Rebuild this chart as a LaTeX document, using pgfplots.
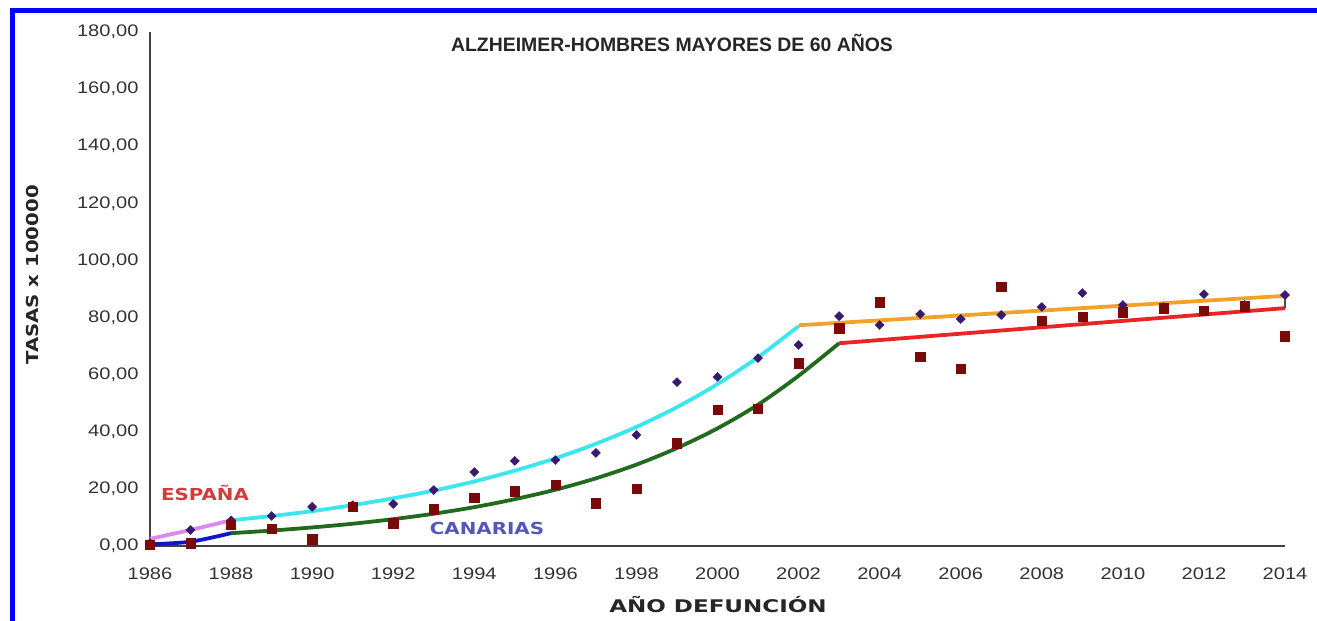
\documentclass[border=0pt]{standalone}
\usepackage{fontspec}
\setmainfont{Liberation Sans}[FakeStretch=1.2]
\newfontfamily\plainfont{Liberation Sans}
\newfontfamily\vfont{DejaVu Sans}[FakeStretch=1.2]
\newfontfamily\xlfont{DejaVu Sans}[FakeStretch=1.32]
\usepackage{pgfplots}
\pgfplotsset{compat=1.18}
\definecolor{espmark}{HTML}{3A1A6E}
\definecolor{canmark}{HTML}{7A0A0A}
\definecolor{cyanl}{HTML}{3CE6EE}
\definecolor{pinkl}{HTML}{DD88EE}
\definecolor{bluel}{HTML}{1414C8}
\definecolor{greenl}{HTML}{226B1E}
\definecolor{orangel}{HTML}{F2A22A}
\definecolor{redl}{HTML}{E82424}
\definecolor{esptxt}{HTML}{D23C3C}
\definecolor{cantxt}{HTML}{5555BB}
\definecolor{axgray}{HTML}{404040}
\definecolor{frameblue}{HTML}{0000FF}
\begin{document}
\begin{tikzpicture}
\useasboundingbox (0,0) rectangle (1317bp,621bp);
\fill[white] (0,0) rectangle (1317bp,621bp);
% frame
\draw[frameblue, line width=5bp] (12.5bp,0) -- (12.5bp,610.5bp) -- (1317bp,610.5bp);
\begin{axis}[
  at={(150bp,75bp)}, anchor=south west,
  scale only axis, width=1135bp, height=514bp,
  xmin=1986, xmax=2014, ymin=0, ymax=180,
  axis lines=left, axis line style={-, axgray, line width=1.6bp},
  major tick length=0pt,
  xtick={1986,1988,...,2014},
  ytick={0,20,...,180},
  tick label style={font=\fontsize{16.8}{20}\selectfont, text=black!80},
  /pgf/number format/assume math mode=true,
  xticklabel style={/pgf/number format/1000 sep={}, yshift=-18bp},
  yticklabel style={/pgf/number format/.cd, fixed, fixed zerofill, precision=2, use comma, 1000 sep={}, /tikz/.cd, xshift=-8bp},
  clip=false,
]
% trend lines Espana
\addplot[pinkl, line width=3.8bp] coordinates {(1986,2.5) (1987,5.6) (1988,9)};
\addplot[cyanl, line width=3.8bp, smooth] coordinates {
 (1988,9) (1989,10.5) (1990,12.2) (1991,14.3) (1992,16.7) (1993,19.4) (1994,22.6)
 (1995,26.4) (1996,30.7) (1997,35.8) (1998,41.7) (1999,48.6) (2000,56.7) (2001,66.1) (2002,77)};
\addplot[orangel, line width=3.8bp] coordinates {(2002,77.3) (2014,87.6)};
% trend lines Canarias
\addplot[bluel, line width=3.8bp, smooth] coordinates {(1986,0.6) (1987,1.5) (1988,4.5)};
\addplot[greenl, line width=3.8bp, smooth] coordinates {
 (1988,4.5) (1989,5.4) (1990,6.5) (1991,7.8) (1992,9.4) (1993,11.3) (1994,13.6)
 (1995,16.4) (1996,19.7) (1997,23.7) (1998,28.5) (1999,34.3) (2000,41.2) (2001,49.5)
 (2002,59.6) (2003,71)};
\addplot[redl, line width=3.8bp] coordinates {(2003,71) (2014,83.3)};
\addplot[black!70, line width=1.2bp] coordinates {(2014,83.3) (2014,87.6)};
% markers Espana
\addplot[only marks, mark=diamond*, mark size=4.5bp, mark options={xscale=1.35}, espmark] coordinates {
 (1986,1) (1987,5.6) (1988,9) (1989,10.5) (1990,13.7) (1991,14.3) (1992,14.7)
 (1993,19.6) (1994,25.9) (1995,29.8) (1996,30.1) (1997,32.6) (1998,38.9)
 (1999,57.4) (2000,59.2) (2001,65.8) (2002,70.4) (2003,80.5) (2004,77.4)
 (2005,81.2) (2006,79.5) (2007,80.9) (2008,83.7) (2009,88.6) (2010,84.4)
 (2011,83.7) (2012,88.2) (2013,84.4) (2014,87.9)};
% markers Canarias
\addplot[only marks, mark=square*, mark size=4.6bp, canmark] coordinates {
 (1986,0.5) (1987,1) (1988,7.5) (1989,6) (1990,2.4) (1991,13.8) (1992,8)
 (1993,12.9) (1994,16.8) (1995,19.2) (1996,21.4) (1997,15) (1998,20)
 (1999,36) (2000,47.6) (2001,48) (2002,64) (2003,76.3) (2004,85.4)
 (2005,66.2) (2006,62) (2007,90.7) (2008,78.8) (2009,80.2) (2010,81.9)
 (2011,83.3) (2012,82.3) (2013,84) (2014,73.5)};
\end{axis}
% texts
\node[font=\plainfont\fontsize{19.5}{23}\selectfont\bfseries, text=black!85] at (672bp,578bp) {ALZHEIMER-HOMBRES MAYORES DE 60 AÑOS};
\node[font=\xlfont\fontsize{17.5}{21}\selectfont\bfseries, text=black!85] at (718bp,16bp) {AÑO DEFUNCIÓN};
\node[font=\vfont\fontsize{16.5}{20}\selectfont\bfseries, text=black!85, rotate=90] at (33bp,346bp) {TASAS x 100000};
\node[font=\vfont\fontsize{16.6}{20}\selectfont\bfseries, text=esptxt] at (205bp,128bp) {ESPAÑA};
\node[font=\vfont\fontsize{16.6}{20}\selectfont\bfseries, text=cantxt] at (487bp,93bp) {CANARIAS};
\end{tikzpicture}
\end{document}
